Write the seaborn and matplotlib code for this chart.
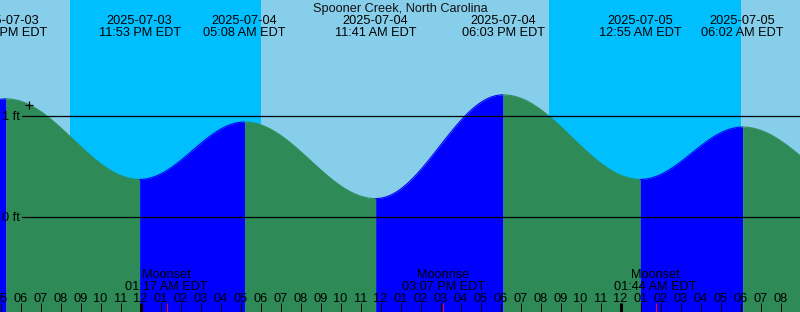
import numpy as np
import pandas as pd
import matplotlib
matplotlib.use("Agg")
import matplotlib.pyplot as plt
import matplotlib.transforms as mtransforms
import seaborn as sns

# ---------------- data ----------------
title = "Spooner Creek, North Carolina"
base_time = "2025-07-04 00:00"

tide_times = ["2025-07-03 10:50", "2025-07-03 17:12", "2025-07-03 23:53",
              "2025-07-04 05:08", "2025-07-04 11:41", "2025-07-04 18:03",
              "2025-07-05 00:55", "2025-07-05 06:02", "2025-07-05 12:30"]
tide_levels = [0.25, 1.17, 0.37, 0.94, 0.18, 1.21, 0.37, 0.89, 0.20]
tide_dates = ["2025-07-03", "2025-07-03", "2025-07-03", "2025-07-04", "2025-07-04",
              "2025-07-04", "2025-07-05", "2025-07-05", "2025-07-05"]
tide_clock = ["10:50 AM EDT", "05:12 PM EDT", "11:53 PM EDT", "05:08 AM EDT", "11:41 AM EDT",
              "06:03 PM EDT", "12:55 AM EDT", "06:02 AM EDT", "12:30 PM EDT"]

night_starts = ["2025-07-03 20:24", "2025-07-04 20:21"]
night_ends = ["2025-07-04 05:57", "2025-07-05 05:56"]

moon_times = ["2025-07-04 01:17", "2025-07-04 15:07", "2025-07-05 01:44"]
moon_names = ["Moonset", "Moonrise", "Moonset"]
moon_clock = ["01:17 AM EDT", "03:07 PM EDT", "01:44 AM EDT"]

now_time = "2025-07-03 18:21"
now_level = 1.11

ref_levels = [0, 1]
ref_labels = ["0 ft", "1 ft"]

# ---------------- helpers ----------------
b = pd.Timestamp(base_time)
def hrs(s):
    return (pd.Timestamp(s) - b) / pd.Timedelta(hours=1)

W, H = 800, 312
PX_FT = 100.7
Y0 = 216.7          # pixel row of 0 ft (from top)
MID = 142.0         # pixel column of midnight 07-04
PX_H = 20.0

SKY = "#87CEEB"
NIGHT = "#00BFFF"
EBB = "#2E8B57"
FLOOD = "#0000FF"
FS = 9.15
FONT = "Liberation Sans"

sns.set_theme(style="white")
plt.rcParams["font.family"] = [FONT, "DejaVu Sans"]

fig = plt.figure(figsize=(W / 100, H / 100), dpi=100)
fig.patch.set_facecolor(SKY)
ax = fig.add_axes([0, 0, 1, 1])
ax.set_axis_off()
ax.set_xlim(-MID / PX_H, (W - MID) / PX_H)
ymin, ymax = (Y0 - H) / PX_FT, Y0 / PX_FT
ax.set_ylim(ymin, ymax)

tr_xa = mtransforms.blended_transform_factory(ax.transData, ax.transAxes)
tr_ay = mtransforms.blended_transform_factory(ax.transAxes, ax.transData)

# night spans
for s, e in zip(night_starts, night_ends):
    ax.axvspan(hrs(s), hrs(e), color=NIGHT, lw=0, zorder=1)

# tide curve
th = [hrs(t) for t in tide_times]
rows = []
for i in range(len(th) - 1):
    t = np.linspace(0, 1, 80)
    xs = th[i] + (th[i + 1] - th[i]) * t
    ys = tide_levels[i] + (tide_levels[i + 1] - tide_levels[i]) * (1 - np.cos(np.pi * t)) / 2
    kind = "rising" if tide_levels[i + 1] > tide_levels[i] else "falling"
    for x, y in zip(xs, ys):
        rows.append((x, y, i, kind))
df = pd.DataFrame(rows, columns=["h", "level", "seg", "kind"])

seg_colors = {}
for seg, g in df.groupby("seg"):
    c = FLOOD if g["kind"].iloc[0] == "rising" else EBB
    seg_colors[seg] = c
    ax.fill_between(g["h"], ymin, g["level"], color=c, lw=0, zorder=2)

sns.lineplot(data=df, x="h", y="level", hue="seg", palette=seg_colors,
             estimator=None, sort=False, legend=False, lw=0.8, ax=ax, zorder=3)
ax.set_xlim(-MID / PX_H, (W - MID) / PX_H)
ax.set_ylim(ymin, ymax)
ax.set_axis_off()

# reference lines
for lv, lab in zip(ref_levels, ref_labels):
    ax.axhline(lv, xmin=22 / W, xmax=1, color="black", lw=0.9, zorder=4)
    ax.text(20 / W, lv, lab, transform=tr_ay, ha="right", va="center_baseline",
            fontsize=FS, color="black", zorder=6)

# now marker
ax.plot([hrs(now_time)], [now_level], marker="+", ms=6, mew=0.9, color="black", zorder=6)

# top labels
fy = lambda py: (H - py) / H
fig.text(0.5, fy(12), title, ha="center", va="baseline", fontsize=FS, color="#111111")
for i in range(1, len(th) - 1):
    ax.text(th[i], fy(24), tide_dates[i], transform=tr_xa, ha="center", va="baseline",
            fontsize=FS, color="black", zorder=6)
    ax.text(th[i], fy(36), tide_clock[i], transform=tr_xa, ha="center", va="baseline",
            fontsize=FS, color="black", zorder=6)

# hour ticks and labels
hours = np.arange(-7, 33)
for hh in hours:
    x = hh - 1.5 / PX_H
    hr = hh % 24
    lab = f"{(hr % 12) or 12:02d}"
    ax.text(x, fy(301.7), lab, transform=tr_xa, ha="center", va="baseline",
            fontsize=FS, color="black", zorder=6)
    lw = 2.2 if hr == 0 else 0.72
    ax.vlines(x, 0, 9 / H, transform=tr_xa, color="black", lw=lw, zorder=5)

# moon events
for t, n, c in zip(moon_times, moon_names, moon_clock):
    x = hrs(t) - 1.0 / PX_H
    ax.vlines(x, 0, 9 / H, transform=tr_xa, color="red", lw=0.72, zorder=5)
    ax.text(x, fy(278.5), n, transform=tr_xa, ha="center", va="baseline",
            fontsize=FS, color="black", zorder=6)
    ax.text(x, fy(289.5), c, transform=tr_xa, ha="center", va="baseline",
            fontsize=FS, color="black", zorder=6)

fig.savefig("out.png", dpi=100, facecolor=fig.get_facecolor())
